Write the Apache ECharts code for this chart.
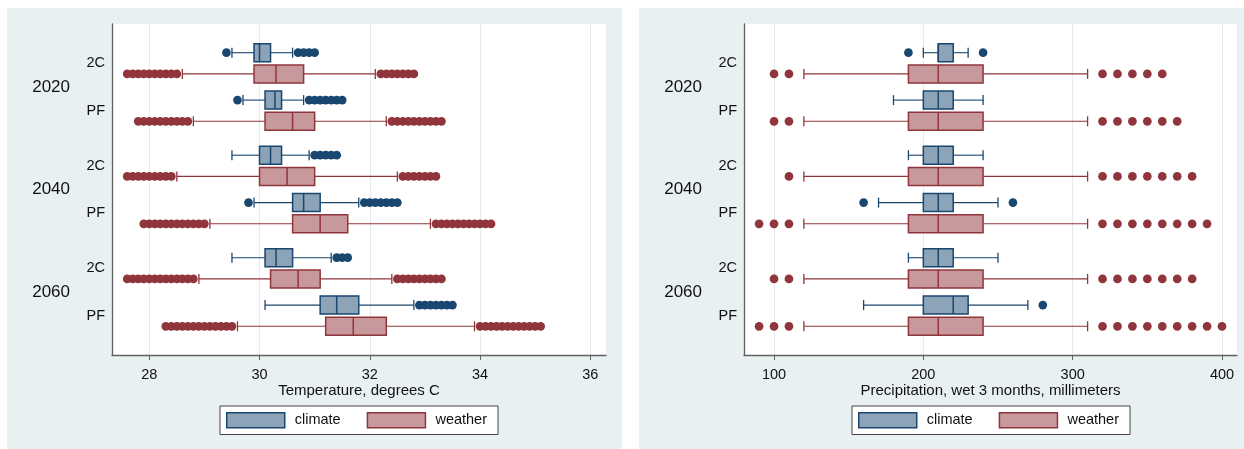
<!DOCTYPE html>
<html>
<head>
<meta charset="utf-8">
<title>Temperature and precipitation: climate vs weather</title>
<script src="https://cdn.jsdelivr.net/npm/echarts@6/dist/echarts.min.js"></script>
<style>
  html, body { margin: 0; padding: 0; background: #ffffff; }
  #chart { width: 1244px; height: 449px; }
</style>
</head>
<body>
<div id="chart"></div>
<script>
// ---- Data -------------------------------------------------------------
const years = ['2020', '2040', '2060'];
const scenarios = ['2C', 'PF'];
// Group order: 2020 2C, 2020 PF, 2040 2C, 2040 PF, 2060 2C, 2060 PF
// Box stats: [lower whisker, Q1, median, Q3, upper whisker]

const tempTicks = [28, 30, 32, 34, 36];
const tempClimateBox = [
  [29.5, 29.9, 30.0, 30.2, 30.6],
  [29.7, 30.1, 30.28, 30.4, 30.8],
  [29.5, 30.0, 30.2, 30.4, 30.9],
  [29.9, 30.6, 30.8, 31.1, 31.8],
  [29.5, 30.1, 30.3, 30.6, 31.3],
  [30.1, 31.1, 31.4, 31.8, 32.8]
];
const tempClimateOut = [
  [29.4, 30.7, 30.8, 30.9, 31.0],
  [29.6, 30.9, 31.0, 31.1, 31.2, 31.3, 31.4, 31.5],
  [31.0, 31.1, 31.2, 31.3, 31.4],
  [29.8, 31.9, 32.0, 32.1, 32.2, 32.3, 32.4, 32.5],
  [31.4, 31.5, 31.6],
  [32.9, 33.0, 33.1, 33.2, 33.3, 33.4, 33.5]
];
const tempWeatherBox = [
  [28.6, 29.9, 30.3, 30.8, 32.1],
  [28.8, 30.1, 30.6, 31.0, 32.3],
  [28.5, 30.0, 30.5, 31.0, 32.5],
  [29.1, 30.6, 31.1, 31.6, 33.1],
  [28.9, 30.2, 30.7, 31.1, 32.4],
  [29.6, 31.2, 31.7, 32.3, 33.9]
];
const tempWeatherOut = [
  [27.6, 27.7, 27.8, 27.9, 28.0, 28.1, 28.2, 28.3, 28.4, 28.5,
   32.2, 32.3, 32.4, 32.5, 32.6, 32.7, 32.8],
  [27.8, 27.9, 28.0, 28.1, 28.2, 28.3, 28.4, 28.5, 28.6, 28.7,
   32.4, 32.5, 32.6, 32.7, 32.8, 32.9, 33.0, 33.1, 33.2, 33.3],
  [27.6, 27.7, 27.8, 27.9, 28.0, 28.1, 28.2, 28.3, 28.4,
   32.6, 32.7, 32.8, 32.9, 33.0, 33.1, 33.2],
  [27.9, 28.0, 28.1, 28.2, 28.3, 28.4, 28.5, 28.6, 28.7, 28.8, 28.9, 29.0,
   33.2, 33.3, 33.4, 33.5, 33.6, 33.7, 33.8, 33.9, 34.0, 34.1, 34.2],
  [27.6, 27.7, 27.8, 27.9, 28.0, 28.1, 28.2, 28.3, 28.4, 28.5, 28.6, 28.7, 28.8,
   32.5, 32.6, 32.7, 32.8, 32.9, 33.0, 33.1, 33.2, 33.3],
  [28.3, 28.4, 28.5, 28.6, 28.7, 28.8, 28.9, 29.0, 29.1, 29.2, 29.3, 29.4, 29.5,
   34.0, 34.1, 34.2, 34.3, 34.4, 34.5, 34.6, 34.7, 34.8, 34.9, 35.0, 35.1]
];

const precipTicks = [100, 200, 300, 400];
const precipClimateBox = [
  [200, 210, 210, 220, 230],
  [180, 200, 210, 220, 240],
  [190, 200, 210, 220, 240],
  [170, 200, 210, 220, 250],
  [190, 200, 210, 220, 250],
  [160, 200, 220, 230, 270]
];
const precipClimateOut = [
  [190, 240],
  [],
  [],
  [160, 260],
  [],
  [280]
];
const precipWeatherBox = [
  [120, 190, 210, 240, 310],
  [120, 190, 210, 240, 310],
  [120, 190, 210, 240, 310],
  [120, 190, 210, 240, 310],
  [120, 190, 210, 240, 310],
  [120, 190, 210, 240, 310]
];
const precipWeatherOut = [
  [100, 110, 320, 330, 340, 350, 360],
  [100, 110, 320, 330, 340, 350, 360, 370],
  [110, 320, 330, 340, 350, 360, 370, 380],
  [90, 100, 110, 320, 330, 340, 350, 360, 370, 380, 390],
  [100, 110, 320, 330, 340, 350, 360, 370, 380],
  [90, 100, 110, 320, 330, 340, 350, 360, 370, 380, 390, 400]
];

// ---- Layout & style ---------------------------------------------------
const FONT = '"Liberation Sans", Arial, Helvetica, sans-serif';
const NAVY = '#1a476f', NAVY_FILL = '#8ca3b8';
const MAROON = '#90353b', MAROON_FILL = '#c8999c';
const AXIS = '#5f5f5f', GRIDLINE = '#e3ebee', PANEL_BG = '#e9f0f2';

// vertical slot of each box, in plot pixels from the top of the plot
const Y_MAX = 331;
const ROW0 = 28.7, YEAR_STEP = 102.5, SCEN_STEP = 47.4, PAIR_STEP = 21.2;
function rowPos(i, k) {
  const g = Math.floor(i / 2), s = i % 2;
  return ROW0 + g * YEAR_STEP + s * SCEN_STEP + k * PAIR_STEP;
}
const scenPos = [], scenText = {};
const yearPos = [], yearText = {};
for (let i = 0; i < years.length * scenarios.length; i++) {
  const p = rowPos(i, 0) + PAIR_STEP / 2;
  scenPos.push(p);
  scenText[Math.round(p * 10)] = scenarios[i % 2];
}
years.forEach((y, g) => {
  const p = ROW0 + g * YEAR_STEP + (SCEN_STEP + PAIR_STEP) / 2;
  yearPos.push(p);
  yearText[Math.round(p * 10)] = y;
});

const BOX_H = 18, CAP_H = 10;

function boxSeries(name, gridIdx, boxes, k, stroke, fill) {
  return {
    name: name,
    type: 'custom',
    xAxisIndex: gridIdx,
    yAxisIndex: gridIdx * 2,
    encode: { x: [1, 2, 3, 4, 5], y: 0 },
    data: boxes.map((b, i) => [rowPos(i, k)].concat(b)),
    z: 3,
    renderItem: function (params, api) {
      const yv = api.value(0);
      const pt = v => api.coord([api.value(v), yv]);
      const wl = pt(1), q1 = pt(2), md = pt(3), q3 = pt(4), wh = pt(5);
      const y = wl[1];
      const line = (x1, y1, x2, y2, w) => ({
        type: 'line',
        shape: { x1: x1, y1: y1, x2: x2, y2: y2 },
        style: { stroke: stroke, lineWidth: w }
      });
      return {
        type: 'group',
        children: [
          line(wl[0], y, q1[0], y, 1.1),
          line(q3[0], y, wh[0], y, 1.1),
          line(wl[0], y - CAP_H / 2, wl[0], y + CAP_H / 2, 1.3),
          line(wh[0], y - CAP_H / 2, wh[0], y + CAP_H / 2, 1.3),
          {
            type: 'rect',
            shape: { x: q1[0], y: y - BOX_H / 2, width: q3[0] - q1[0], height: BOX_H },
            style: { fill: fill, stroke: stroke, lineWidth: 1.5 }
          },
          line(md[0], y - BOX_H / 2, md[0], y + BOX_H / 2, 1.5)
        ]
      };
    }
  };
}

function outlierSeries(name, gridIdx, outs, k, color) {
  const pts = [];
  outs.forEach((arr, i) => arr.forEach(v => pts.push([v, rowPos(i, k)])));
  return {
    name: name,
    type: 'scatter',
    xAxisIndex: gridIdx,
    yAxisIndex: gridIdx * 2,
    symbol: 'circle',
    symbolSize: 8.7,
    itemStyle: { color: color, opacity: 1 },
    emphasis: { disabled: true },
    data: pts,
    z: 4
  };
}

function xAxisFor(gridIdx, min, max, ticks, title) {
  return {
    type: 'value',
    gridIndex: gridIdx,
    min: min,
    max: max,
    name: title,
    nameLocation: 'middle',
    nameGap: 28,
    nameMoveOverlap: false,
    nameTextStyle: { fontFamily: FONT, fontSize: 15, color: '#111' },
    axisLine: { show: true, onZero: false, lineStyle: { color: AXIS, width: 1.3 } },
    axisTick: { show: true, length: 5, customValues: ticks, lineStyle: { color: AXIS, width: 1 } },
    axisLabel: { customValues: ticks, margin: 12, fontFamily: FONT, fontSize: 14.5, color: '#111' },
    splitLine: { show: true, lineStyle: { color: GRIDLINE, width: 1 } }
  };
}

function yAxesFor(gridIdx) {
  return [
    {
      type: 'value', gridIndex: gridIdx, inverse: true, min: 0, max: Y_MAX,
      axisLine: { show: true, lineStyle: { color: AXIS, width: 1.3 } },
      axisTick: { show: false },
      splitLine: { show: false },
      axisLabel: {
        customValues: scenPos, margin: 7,
        fontFamily: FONT, fontSize: 14.5, color: '#111',
        formatter: v => scenText[Math.round(v * 10)] || ''
      }
    },
    {
      type: 'value', gridIndex: gridIdx, inverse: true, min: 0, max: Y_MAX,
      position: 'left',
      axisLine: { show: false },
      axisTick: { show: false },
      splitLine: { show: false },
      axisLabel: {
        customValues: yearPos, margin: 42,
        fontFamily: FONT, fontSize: 17, color: '#111',
        formatter: v => yearText[Math.round(v * 10)] || ''
      }
    }
  ];
}

function legendFor(left) {
  return {
    left: left, top: 406,
    orient: 'horizontal',
    backgroundColor: '#ffffff',
    borderColor: '#444444', borderWidth: 1, borderRadius: 0,
    padding: [6, 11, 6, 6],
    itemWidth: 58, itemHeight: 15, itemGap: 26,
    selectedMode: false,
    textStyle: { fontFamily: FONT, fontSize: 14.5, color: '#111', padding: [0, 0, 0, 5] },
    data: [
      { name: 'climate', icon: 'rect', itemStyle: { color: NAVY_FILL, borderColor: NAVY, borderWidth: 1.5 } },
      { name: 'weather', icon: 'rect', itemStyle: { color: MAROON_FILL, borderColor: MAROON, borderWidth: 1.5 } }
    ]
  };
}

const chart = echarts.init(document.getElementById('chart'), null, { renderer: 'canvas' });
chart.setOption({
  animation: false,
  backgroundColor: '#ffffff',
  graphic: [
    { type: 'rect', z: -10, silent: true, shape: { x: 7, y: 8, width: 615, height: 441 }, style: { fill: PANEL_BG } },
    { type: 'rect', z: -10, silent: true, shape: { x: 639, y: 8, width: 605, height: 441 }, style: { fill: PANEL_BG } }
  ],
  grid: [
    { left: 112, top: 24, width: 494, height: 331, show: true, backgroundColor: '#ffffff', borderWidth: 0 },
    { left: 744, top: 24, width: 493, height: 331, show: true, backgroundColor: '#ffffff', borderWidth: 0 }
  ],
  legend: [legendFor(220), legendFor(852)],
  xAxis: [
    xAxisFor(0, 27.324, 36.285, tempTicks, 'Temperature, degrees C'),
    xAxisFor(1, 79.9, 410.05, precipTicks, 'Precipitation, wet 3 months, millimeters')
  ],
  yAxis: yAxesFor(0).concat(yAxesFor(1)),
  series: [
    boxSeries('climate', 0, tempClimateBox, 0, NAVY, NAVY_FILL),
    boxSeries('weather', 0, tempWeatherBox, 1, MAROON, MAROON_FILL),
    outlierSeries('climate', 0, tempClimateOut, 0, NAVY),
    outlierSeries('weather', 0, tempWeatherOut, 1, MAROON),
    boxSeries('climate', 1, precipClimateBox, 0, NAVY, NAVY_FILL),
    boxSeries('weather', 1, precipWeatherBox, 1, MAROON, MAROON_FILL),
    outlierSeries('climate', 1, precipClimateOut, 0, NAVY),
    outlierSeries('weather', 1, precipWeatherOut, 1, MAROON)
  ]
});
</script>
</body>
</html>
